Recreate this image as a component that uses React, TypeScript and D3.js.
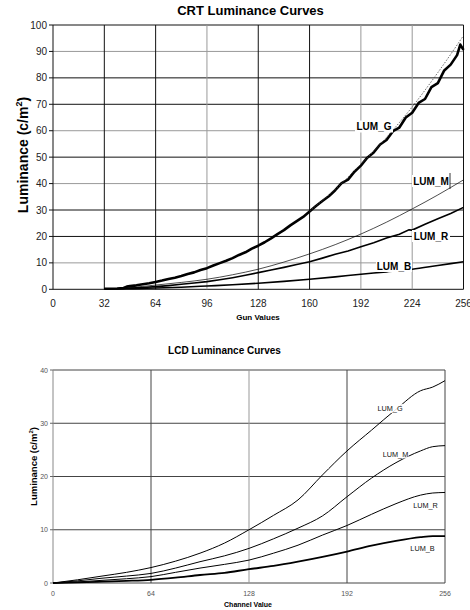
import React from "react";
import * as d3 from "d3";

// ---------- CRT data ----------
const crtXTicks = [0, 32, 64, 96, 128, 160, 192, 224, 256];
const crtYTicks = [0, 10, 20, 30, 40, 50, 60, 70, 80, 90, 100];
const crtGrayX = [96, 192, 224];
const crtGrayY = [90, 60, 40, 10];

const crtGx = [32, 40, 44, 46, 48, 52, 56, 60, 64, 68, 72, 76, 80, 84, 88, 92, 96, 100, 104, 108, 112, 116, 120, 124, 128, 132, 136, 140, 144, 148, 152, 156, 160, 164, 168, 172, 176, 180, 184, 188, 192, 196, 200, 204, 208, 212, 216, 220, 224, 228, 232, 236, 240, 244, 248, 252, 254, 256];
const crtGy = [0.2, 0.3, 0.5, 1.0, 1.2, 1.5, 1.9, 2.3, 2.8, 3.3, 3.9, 4.4, 5.0, 5.8, 6.4, 7.3, 8.0, 9.0, 9.9, 10.8, 11.8, 13.0, 14.0, 15.4, 16.5, 17.8, 19.3, 20.9, 22.4, 24.2, 25.8, 27.4, 29.4, 31.5, 33.4, 35.2, 37.5, 40.2, 41.5, 44.5, 46.8, 49.8, 51.8, 54.8, 56.5, 59.8, 61.2, 65.0, 66.8, 70.5, 72.0, 76.5, 78.0, 82.8, 85.0, 88.6, 92.6, 90.6];
const crtFitX = [160, 176, 192, 208, 224, 240, 256];
const crtFitY = [29.6, 37.8, 47.3, 57.5, 69.0, 82.0, 96.0];
const crtMx = [32, 40, 48, 56, 64, 80, 96, 112, 128, 144, 160, 176, 192, 208, 224, 240, 256];
const crtMy = [0.2, 0.3, 0.6, 1.1, 1.6, 2.6, 3.8, 5.5, 7.6, 10.3, 13.4, 16.9, 20.9, 25.4, 30.4, 35.7, 41.4];
const crtRx = [32, 44, 48, 56, 64, 72, 80, 88, 96, 104, 112, 120, 128, 136, 144, 152, 160, 168, 176, 184, 192, 200, 208, 216, 222, 224, 232, 240, 248, 256];
const crtRy = [0.2, 0.3, 0.5, 0.7, 1.0, 1.4, 1.9, 2.4, 2.9, 3.6, 4.4, 5.3, 6.3, 7.3, 8.3, 9.4, 10.4, 11.8, 13.3, 14.5, 16.1, 17.6, 19.4, 20.8, 22.5, 22.4, 24.6, 26.7, 28.7, 31.0];
const crtBx = [32, 48, 64, 80, 96, 112, 128, 144, 160, 176, 192, 208, 224, 240, 256];
const crtBy = [0.2, 0.2, 0.5, 0.8, 1.25, 1.7, 2.3, 3.0, 3.8, 4.7, 5.7, 6.6, 7.6, 9.0, 10.4];

// ---------- LCD data ----------
const lcdXTicks = [0, 64, 128, 192, 256];
const lcdYTicks = [0, 10, 20, 30, 40];
const lcdX = [0, 16, 32, 48, 64, 80, 96, 112, 128, 144, 160, 176, 192, 208, 224, 240, 248, 256];
const lcdG = [0, 0.6, 1.3, 2.0, 2.9, 4.1, 5.6, 7.5, 10.0, 12.7, 15.6, 20.3, 24.8, 28.7, 32.6, 36.1, 36.8, 38.0];
const lcdM = [0, 0.4, 0.9, 1.3, 1.8, 2.8, 4.0, 5.1, 6.5, 8.3, 10.3, 12.6, 16.2, 19.7, 22.6, 24.8, 25.6, 25.8];
const lcdR = [0, 0.2, 0.5, 0.8, 1.2, 2.0, 2.8, 3.5, 4.3, 5.6, 7.1, 9.0, 10.8, 12.9, 14.9, 16.5, 16.9, 17.0];
const lcdB = [0, 0.1, 0.25, 0.4, 0.6, 1.0, 1.5, 1.9, 2.6, 3.2, 4.0, 4.9, 5.9, 7.0, 7.9, 8.6, 8.8, 8.8];

const FONT = "Arial, 'Liberation Sans', Helvetica, sans-serif";

const pts = (xs: number[], ys: number[]) => xs.map((x, i) => [x, ys[i]] as [number, number]);

export default function App() {
  // CRT scales
  const cx = d3.scaleLinear().domain([0, 256]).range([53, 463.5]);
  const cy = d3.scaleLinear().domain([0, 100]).range([289.3, 25]);
  const cLine = d3.line<[number, number]>().x(d => cx(d[0])).y(d => cy(d[1]));
  const cSmooth = d3.line<[number, number]>().x(d => cx(d[0])).y(d => cy(d[1])).curve(d3.curveMonotoneX);

  // LCD scales
  const lx = d3.scaleLinear().domain([0, 256]).range([53, 445]);
  const ly = d3.scaleLinear().domain([0, 40]).range([583, 370]);
  const lLine = d3.line<[number, number]>().x(d => lx(d[0])).y(d => ly(d[1])).curve(d3.curveMonotoneX);

  const crtLabel = (text: string, x: number, y: number, w: number) => (
    <g>
      <rect x={x - w / 2} y={y - 6} width={w} height={12} fill="#fff" />
      <text x={x} y={y + 3.5} textAnchor="middle" fontSize={10} fontWeight="bold" fill="#000">{text}</text>
    </g>
  );
  const lcdLabel = (text: string, x: number, y: number) => (
    <g>
      <rect x={x - 13} y={y - 4.5} width={26} height={9} fill="#fff" fillOpacity={0.85} />
      <text x={x} y={y + 2.5} textAnchor="middle" fontSize={7.3} fill="#111">{text}</text>
    </g>
  );

  return (
    <svg width={470} height={610} style={{ position: "absolute", left: 0, top: 0, background: "#fff" }} fontFamily={FONT}>
      {/* ===== CRT chart ===== */}
      <text x={250.5} y={15} textAnchor="middle" fontSize={13} fontWeight="bold">CRT Luminance Curves</text>
      {crtYTicks.map(t => (
        <line key={"cy" + t} x1={cx(0)} x2={cx(256)} y1={cy(t)} y2={cy(t)}
          stroke={crtGrayY.includes(t) ? "#999" : "#111"} strokeWidth={1} />
      ))}
      {crtXTicks.map(t => (
        <line key={"cx" + t} x1={cx(t)} x2={cx(t)} y1={cy(0)} y2={cy(100)}
          stroke={crtGrayX.includes(t) ? "#999" : "#111"} strokeWidth={1} />
      ))}
      {crtYTicks.map(t => (
        <line key={"cyt" + t} x1={cx(0) - 4} x2={cx(0)} y1={cy(t)} y2={cy(t)} stroke="#111" />
      ))}
      {crtYTicks.map(t => (
        <text key={"cyl" + t} x={cx(0) - 6} y={cy(t) + 3.5} textAnchor="end" fontSize={10} fill="#222">{t}</text>
      ))}
      {crtXTicks.map(t => (
        <text key={"cxl" + t} x={cx(t)} y={307} textAnchor="middle" fontSize={10} fill="#222">{t}</text>
      ))}
      <text x={258} y={320} textAnchor="middle" fontSize={8} fontWeight="bold">Gun Values</text>
      <text transform="translate(28,155) rotate(-90)" textAnchor="middle" fontSize={14} fontWeight="bold">
        Luminance (c/m<tspan dy={-6} fontSize={9}>2</tspan><tspan dy={6}>)</tspan>
      </text>

      <path d={cSmooth(pts(crtBx, crtBy)) || ""} fill="none" stroke="#000" strokeWidth={1.6} />
      <path d={cLine(pts(crtRx, crtRy)) || ""} fill="none" stroke="#000" strokeWidth={1.6} />
      <path d={cSmooth(pts(crtMx, crtMy)) || ""} fill="none" stroke="#000" strokeWidth={0.7} />
      <path d={cLine(pts(crtGx, crtGy)) || ""} fill="none" stroke="#000" strokeWidth={2.6} strokeLinejoin="round" />
      <path d={cSmooth(pts(crtFitX, crtFitY)) || ""} fill="none" stroke="#444" strokeWidth={0.8} strokeDasharray="1.5,1.5" />

      {crtLabel("LUM_G", 374, 126.5, 38)}
      {crtLabel("LUM_M", 431, 181, 38)}
      <line x1={450} x2={450} y1={173} y2={189} stroke="#000" strokeWidth={0.8} />
      {crtLabel("LUM_R", 431, 236, 38)}
      {crtLabel("LUM_B", 394, 266, 36)}

      {/* ===== LCD chart ===== */}
      <text x={224.5} y={354} textAnchor="middle" fontSize={10} fontWeight="bold">LCD Luminance Curves</text>
      {lcdYTicks.map(t => (
        <line key={"ly" + t} x1={lx(0)} x2={lx(256)} y1={ly(t)} y2={ly(t)} stroke="#444" strokeWidth={1} />
      ))}
      {lcdXTicks.map(t => (
        <line key={"lx" + t} x1={lx(t)} x2={lx(t)} y1={ly(0)} y2={ly(40)}
          stroke={t === 0 ? "#888" : t === 128 ? "#999" : "#444"} strokeWidth={1} />
      ))}
      {lcdYTicks.map(t => (
        <line key={"lyt" + t} x1={lx(0) - 3} x2={lx(0)} y1={ly(t)} y2={ly(t)} stroke="#666" />
      ))}
      {lcdYTicks.map(t => (
        <text key={"lyl" + t} x={lx(0) - 5} y={ly(t) + 2.5} textAnchor="end" fontSize={7} fill="#555">{t}</text>
      ))}
      {lcdXTicks.map(t => (
        <text key={"lxl" + t} x={lx(t)} y={596} textAnchor="middle" fontSize={7} fill="#555">{t}</text>
      ))}
      <text x={248} y={606.5} textAnchor="middle" fontSize={7} fontWeight="bold">Channel Value</text>
      <text transform="translate(37,466.5) rotate(-90)" textAnchor="middle" fontSize={9.5} fontWeight="bold">
        Luminance (c/m<tspan dy={-4} fontSize={6}>2</tspan><tspan dy={4}>)</tspan>
      </text>

      <path d={lLine(pts(lcdX, lcdB)) || ""} fill="none" stroke="#000" strokeWidth={1.8} />
      <path d={lLine(pts(lcdX, lcdR)) || ""} fill="none" stroke="#000" strokeWidth={1} />
      <path d={lLine(pts(lcdX, lcdM)) || ""} fill="none" stroke="#000" strokeWidth={1} />
      <path d={lLine(pts(lcdX, lcdG)) || ""} fill="none" stroke="#000" strokeWidth={1} />

      {lcdLabel("LUM_G", 390, 408.5)}
      {lcdLabel("LUM_M", 395.5, 454)}
      {lcdLabel("LUM_R", 425.5, 505.5)}
      {lcdLabel("LUM_B", 422.5, 548.5)}
    </svg>
  );
}
